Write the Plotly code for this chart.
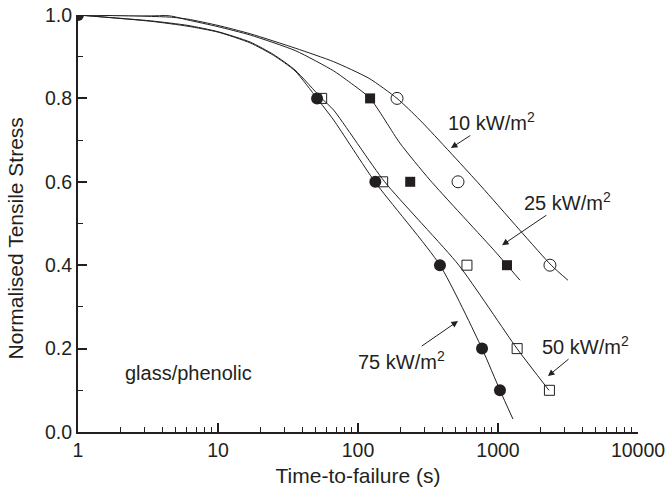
import plotly.graph_objects as go

# ---- measured data points (time-to-failure in s, normalised tensile stress) ----
t75 = [1, 51, 133, 385, 769, 1033]
s75 = [1.0, 0.8, 0.6, 0.4, 0.2, 0.1]
t50 = [55, 150, 600, 1370, 2330]
s50 = [0.8, 0.6, 0.4, 0.2, 0.1]
t25 = [122, 236, 1160]
s25 = [0.8, 0.6, 0.4]
t10 = [190, 518, 2350]
s10 = [0.8, 0.6, 0.4]

# ---- model curves ----
fit_t10 = [1, 4.5, 6.1, 10, 17, 36, 67, 120, 190, 277, 710, 2400, 3160]
fit_s10 = [1.0, 0.995, 0.99, 0.975, 0.955, 0.92, 0.888, 0.848, 0.8, 0.748, 0.6, 0.4, 0.364]
fit_t25 = [1, 4.5, 6.1, 10, 17, 36, 67, 83, 122, 199, 327, 936, 1160, 1436]
fit_s25 = [1.0, 0.998, 0.988, 0.972, 0.952, 0.914, 0.866, 0.844, 0.8, 0.693, 0.604, 0.436, 0.4, 0.364]
fit_t50 = [1, 3.3, 6.1, 10, 17, 25, 35.5, 55, 67, 155, 525, 1367, 2313]
fit_s50 = [1.0, 0.986, 0.975, 0.96, 0.935, 0.905, 0.868, 0.8, 0.772, 0.6, 0.4, 0.2, 0.1]
fit_t75 = [1, 3.3, 6.1, 10, 17, 25, 35.5, 51, 67, 132, 385, 769, 1033, 1279]
fit_s75 = [1.0, 0.985, 0.973, 0.959, 0.933, 0.903, 0.866, 0.8, 0.748, 0.6, 0.4, 0.2, 0.1, 0.031]

x_ticks = [1, 10, 100, 1000, 10000]
x_ticktext = ["1", "10", "100", "1000", "10000"]
y_ticks = [0.0, 0.2, 0.4, 0.6, 0.8, 1.0]

INK = "#231f20"
FONT = "Liberation Sans, Arial, Helvetica, sans-serif"

fig = go.Figure()

for ft, fs in [(fit_t10, fit_s10), (fit_t25, fit_s25), (fit_t50, fit_s50), (fit_t75, fit_s75)]:
    fig.add_trace(go.Scatter(x=ft, y=fs, mode="lines",
                             line=dict(color=INK, width=1, shape="spline", smoothing=0.6),
                             hoverinfo="skip", showlegend=False))

fig.add_trace(go.Scatter(x=t75, y=s75, mode="markers", name="75 kW/m²",
                         marker=dict(symbol="circle", size=12, color=INK, line=dict(width=0))))
fig.add_trace(go.Scatter(x=t50, y=s50, mode="markers", name="50 kW/m²",
                         marker=dict(symbol="square-open", size=10, color=INK, line=dict(width=1))))
fig.add_trace(go.Scatter(x=t25, y=s25, mode="markers", name="25 kW/m²",
                         marker=dict(symbol="square", size=10, color=INK, line=dict(width=0))))
fig.add_trace(go.Scatter(x=t10, y=s10, mode="markers", name="10 kW/m²",
                         marker=dict(symbol="circle-open", size=12, color=INK, line=dict(width=1))))

minor_x = [m * 10 ** d for d in range(4) for m in range(2, 10)]

fig.update_xaxes(type="log", range=[0, 4], tickvals=x_ticks, ticktext=x_ticktext,
                 automargin=False, ticklabeloverflow="allow",
                 ticks="inside", ticklen=9, tickwidth=1.5, tickcolor=INK,
                 showline=True, linewidth=2, linecolor=INK, showgrid=False, zeroline=False,
                 minor=dict(tickvals=minor_x, ticks="inside", ticklen=5, tickwidth=1.2,
                            tickcolor=INK, showgrid=False),
                 tickfont=dict(family=FONT, size=19.5, color=INK),
                 title=dict(text="Time-to-failure (s)", font=dict(family=FONT, size=21, color=INK),
                            standoff=8))
fig.update_yaxes(range=[0, 1.0], tickvals=y_ticks, tickformat=".1f",
                 automargin=False, ticklabeloverflow="allow",
                 ticks="inside", ticklen=9, tickwidth=1.5, tickcolor=INK,
                 showline=True, linewidth=2, linecolor=INK, showgrid=False, zeroline=False,
                 minor=dict(tickvals=[0.1, 0.3, 0.5, 0.7, 0.9], ticks="inside", ticklen=5,
                            tickwidth=1.2, tickcolor=INK, showgrid=False),
                 tickfont=dict(family=FONT, size=19.5, color=INK))

afont = dict(family=FONT, size=20, color=INK)
annotations = [
    # y-axis title
    dict(text="Normalised Tensile Stress", x=-0.1107, y=0.464, xref="paper", yref="paper",
         showarrow=False, textangle=-90, xanchor="center", yanchor="middle",
         font=dict(family=FONT, size=21, color=INK)),
    dict(text="glass/phenolic", x=0.321, y=0.141, xref="x", yref="y", showarrow=False,
         xanchor="left", yanchor="middle", font=afont),
]
# heat-flux labels with arrows: (text, head x [log10], head y, text offset px)
for txt, x, y, ax, ay in [("10 kW/m<sup>2</sup>", 2.664, 0.681, 41, -26.5),
                          ("25 kW/m<sup>2</sup>", 3.029, 0.448, 65, -44),
                          ("50 kW/m<sup>2</sup>", 3.357, 0.134, 37.5, -31),
                          ("75 kW/m<sup>2</sup>", 2.714, 0.266, -56.5, 39)]:
    annotations.append(dict(text=txt, x=x, y=y, xref="x", yref="y", showarrow=True,
                            ax=ax, ay=ay, axref="pixel", ayref="pixel",
                            arrowhead=2, arrowsize=1.3, arrowwidth=1, arrowcolor=INK,
                            font=afont))

fig.update_layout(width=668, height=500, autosize=False,
                  margin=dict(l=78, r=30, t=15, b=68),
                  paper_bgcolor="white", plot_bgcolor="white",
                  showlegend=False, annotations=annotations,
                  font=dict(family=FONT, color=INK))

# remove the default 8 px page margin so the 668x500 figure fills the window exactly
fig.write_html("out.html", config={"displayModeBar": False},
               post_script="document.body.style.margin='0px';")
